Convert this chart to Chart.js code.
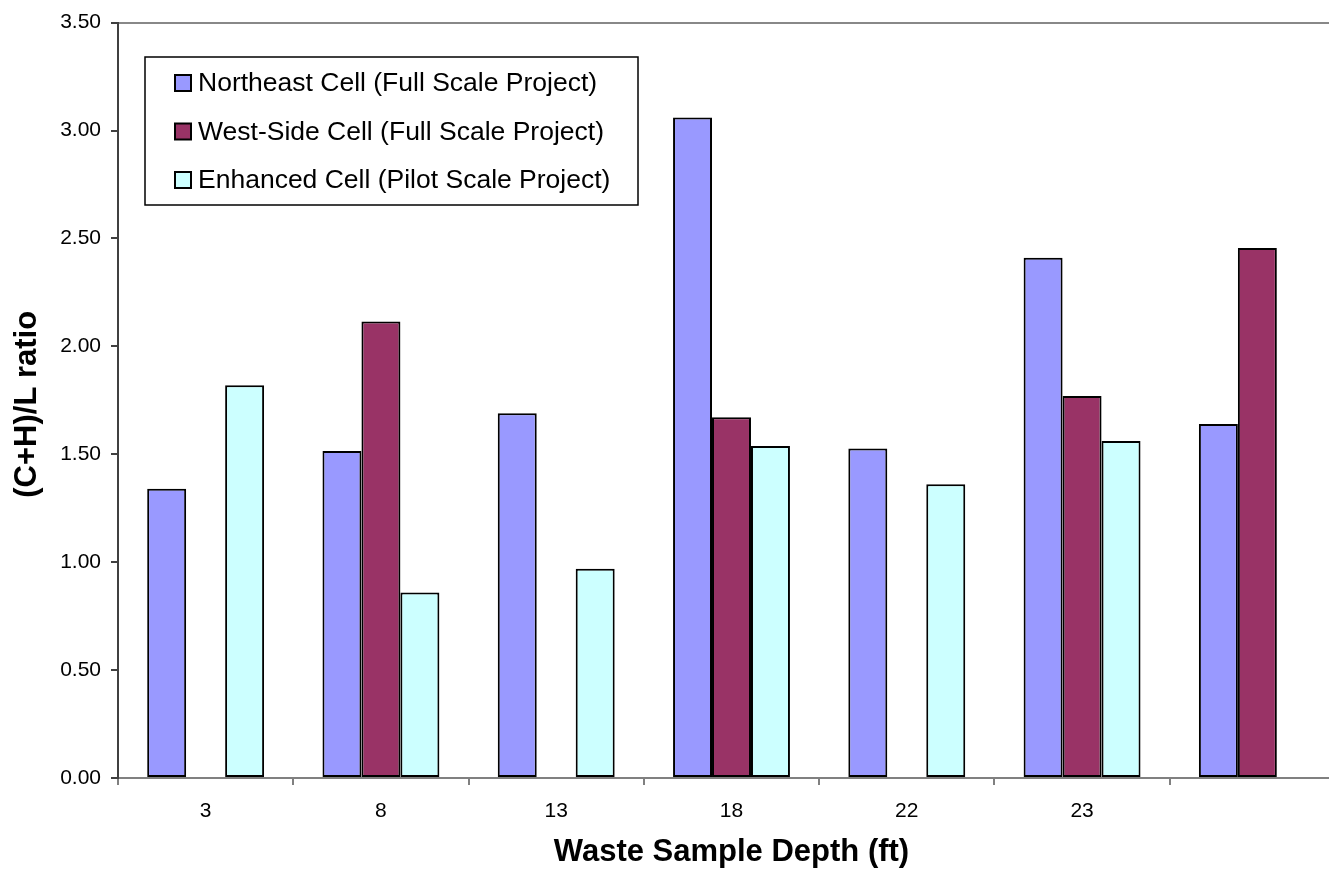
<!DOCTYPE html>
<html>
<head>
<meta charset="utf-8">
<title>(C+H)/L ratio by waste sample depth</title>
<script src="https://cdn.jsdelivr.net/npm/chart.js@4/dist/chart.umd.min.js"></script>
<style>
  html, body { margin: 0; padding: 0; background: #fff; overflow: hidden; }
  #wrap { width: 1329px; height: 874px; overflow: hidden; position: relative; }
  #wrap canvas { position: absolute; left: 0; top: 0; }
</style>
</head>
<body>
<div id="wrap"><canvas id="ratioChart" width="1350" height="874"></canvas></div>
<script>
// sample depths (last group has no label)
var depths = ["3", "8", "13", "18", "22", "23", ""];

// (C+H)/L ratio per cell, null = no sample
var northeast = [1.34, 1.515, 1.69, 3.06, 1.527, 2.41, 1.64];
var westSide  = [null, 2.115, null, 1.672, null, 1.77, 2.456];
var enhanced  = [1.82, 0.86, 0.97, 1.538, 1.361, 1.561, null];

var seriesNames = [
  "Northeast Cell (Full Scale Project)",
  "West-Side Cell (Full Scale Project)",
  "Enhanced Cell (Pilot Scale Project)"
];
var seriesColors = ["#9999ff", "#993366", "#ccffff"];

var yTicks = [0, 0.5, 1, 1.5, 2, 2.5, 3, 3.5];

var FONT = "'Liberation Sans', Arial, sans-serif";

// boxed legend in the top left of the plot
var boxLegend = {
  id: 'boxLegend',
  afterDraw: function(chart) {
    var ctx = chart.ctx;
    ctx.save();
    ctx.fillStyle = '#fff';
    ctx.fillRect(145, 57, 493, 148);
    ctx.strokeStyle = '#000';
    ctx.lineWidth = 1.5;
    ctx.strokeRect(145, 57, 493, 148);
    ctx.font = '26.5px ' + FONT;
    ctx.textBaseline = 'middle';
    chart.data.datasets.forEach(function(ds, i) {
      var cy = 83 + i * 48.5;
      ctx.fillStyle = ds.backgroundColor;
      ctx.fillRect(175, cy - 8, 16, 16);
      ctx.lineWidth = 2;
      ctx.strokeStyle = '#000';
      ctx.strokeRect(175, cy - 8, 16, 16);
      ctx.fillStyle = '#000';
      ctx.fillText(ds.label, 198, cy + 1);
    });
    ctx.restore();
  }
};

// axis titles
var axisTitles = {
  id: 'axisTitles',
  afterDraw: function(chart) {
    var ctx = chart.ctx, area = chart.chartArea;
    ctx.save();
    ctx.fillStyle = '#000';
    ctx.font = 'bold 31px ' + FONT;
    ctx.textAlign = 'center';
    ctx.textBaseline = 'middle';
    ctx.fillText('Waste Sample Depth (ft)', (area.left + area.right) / 2, 852);
    ctx.translate(27, (area.top + area.bottom) / 2 + 4);
    ctx.rotate(-Math.PI / 2);
    ctx.fillText('(C+H)/L ratio', 0, 0);
    ctx.restore();
  }
};

function makeSet(i, values) {
  return {
    label: seriesNames[i],
    data: values,
    backgroundColor: seriesColors[i],
    borderColor: '#000',
    borderWidth: 2,
    borderSkipped: false
  };
}

new Chart(document.getElementById('ratioChart'), {
  type: 'bar',
  data: {
    labels: depths,
    datasets: [makeSet(0, northeast), makeSet(1, westSide), makeSet(2, enhanced)]
  },
  options: {
    responsive: false,
    animation: false,
    categoryPercentage: 0.667,
    barPercentage: 1.0,
    layout: { padding: { left: 0, right: 5, top: 20, bottom: 0 } },
    plugins: {
      legend: { display: false },
      tooltip: { enabled: false }
    },
    scales: {
      x: {
        offset: true,
        grid: {
          offset: true,
          drawOnChartArea: false,
          tickLength: 7,
          tickColor: '#808080',
          lineWidth: 2
        },
        border: { color: '#808080', width: 2 },
        ticks: {
          color: '#000',
          font: { family: FONT, size: 21 },
          padding: 14,
          maxRotation: 0
        },
        afterFit: function(scale) { scale.height = 96; }
      },
      y: {
        min: 0,
        max: 3.5,
        afterBuildTicks: function(scale) {
          scale.ticks = yTicks.map(function(v) { return { value: v }; });
        },
        grid: {
          color: function(c) { return c.tick && c.tick.value === 3.5 ? '#888' : 'rgba(0,0,0,0)'; },
          lineWidth: 2,
          tickLength: 7,
          tickColor: '#404040'
        },
        border: { color: '#404040', width: 2 },
        ticks: {
          color: '#000',
          font: { family: FONT, size: 21 },
          padding: 10,
          callback: function(v) { return Number(v).toFixed(2); }
        },
        afterFit: function(scale) { scale.width = 118; }
      }
    }
  },
  plugins: [boxLegend, axisTitles]
});
</script>
</body>
</html>
